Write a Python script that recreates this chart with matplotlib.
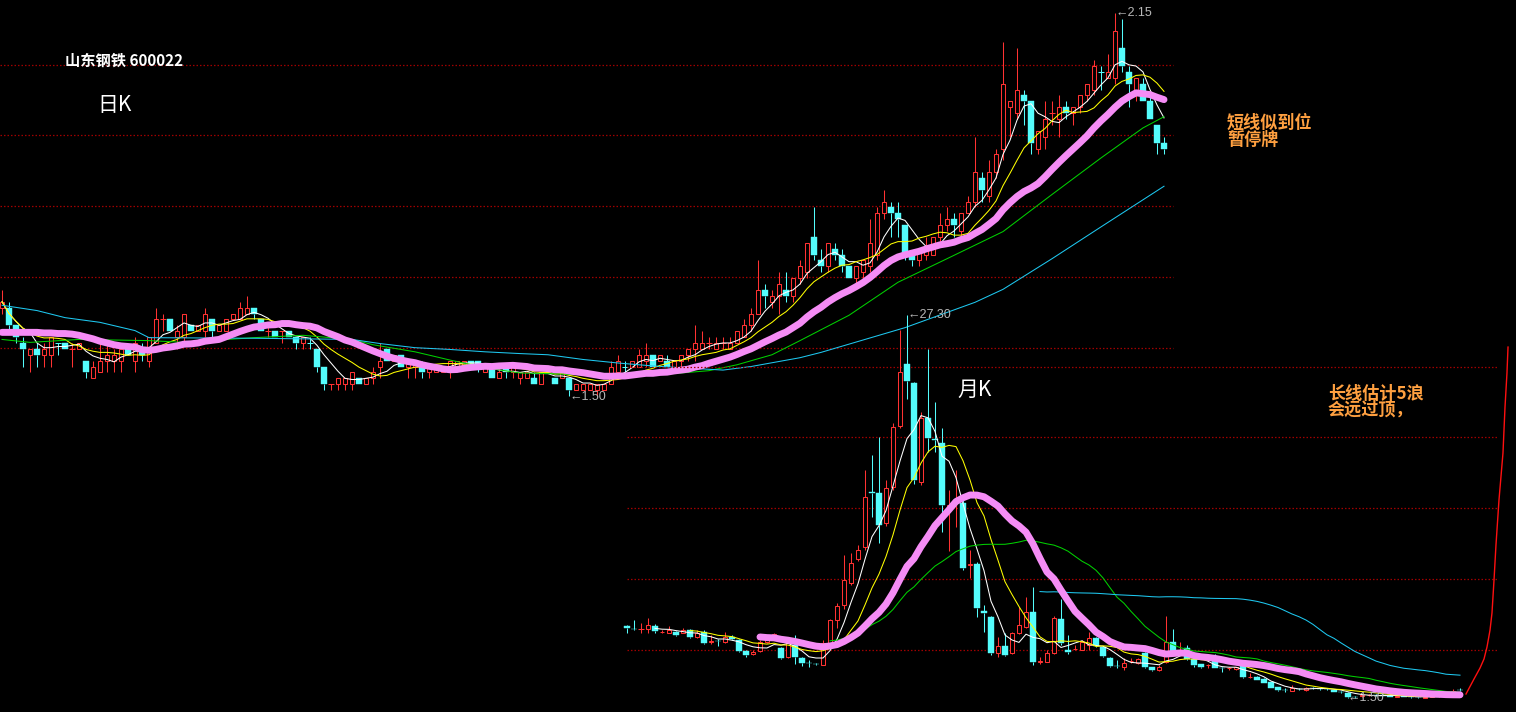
import numpy as np
import pandas as pd
import matplotlib
matplotlib.use("Agg")
import matplotlib.pyplot as plt

plt.rcParams['font.family'] = ['Noto Sans CJK SC', 'DejaVu Sans']

# ---------------- daily K data ----------------
day_open = [
    1.65, 1.65, 1.62, 1.59, 1.57, 1.58, 1.57, 1.57, 1.59, 1.59,
    1.58, 1.58, 1.56, 1.53, 1.54, 1.56, 1.56, 1.56, 1.58, 1.56,
    1.58, 1.56, 1.59, 1.63, 1.63, 1.60, 1.60, 1.62, 1.61, 1.61,
    1.63, 1.61, 1.61, 1.63, 1.63, 1.64, 1.65, 1.63, 1.61, 1.61,
    1.61, 1.61, 1.60, 1.59, 1.59, 1.58, 1.55, 1.52, 1.52, 1.52,
    1.52, 1.53, 1.52, 1.53, 1.55, 1.58, 1.56, 1.57, 1.55, 1.55,
    1.55, 1.54, 1.54, 1.54, 1.55, 1.55, 1.55, 1.56, 1.56, 1.54,
    1.55, 1.53, 1.55, 1.54, 1.53, 1.53, 1.53, 1.52, 1.54, 1.53,
    1.53, 1.53, 1.51, 1.51, 1.51, 1.51, 1.51, 1.52, 1.54, 1.55,
    1.55, 1.55, 1.56, 1.57, 1.56, 1.56, 1.55, 1.56, 1.57, 1.58,
    1.58, 1.59, 1.58, 1.59, 1.58, 1.59, 1.60, 1.62, 1.64, 1.68,
    1.66, 1.67, 1.68, 1.67, 1.70, 1.71, 1.77, 1.73, 1.72, 1.75,
    1.74, 1.72, 1.70, 1.71, 1.72, 1.74, 1.81, 1.82, 1.81, 1.79,
    1.74, 1.73, 1.74, 1.74, 1.77, 1.79, 1.80, 1.78, 1.81, 1.83,
    1.87, 1.84, 1.88, 1.92, 1.99, 1.98, 2.01, 2.00, 1.92, 1.94,
    1.98, 1.97, 1.99, 1.98, 1.99, 2.01, 2.02, 2.05, 2.04, 2.04,
    2.09, 2.05, 2.02, 2.03, 2.00, 1.96, 1.93]
day_high = [
    1.68, 1.66, 1.62, 1.60, 1.58, 1.59, 1.59, 1.60, 1.59, 1.59,
    1.59, 1.59, 1.56, 1.56, 1.59, 1.59, 1.58, 1.58, 1.58, 1.60,
    1.59, 1.60, 1.65, 1.64, 1.63, 1.62, 1.64, 1.62, 1.62, 1.65,
    1.63, 1.62, 1.63, 1.64, 1.66, 1.67, 1.65, 1.63, 1.62, 1.61,
    1.61, 1.61, 1.60, 1.60, 1.60, 1.58, 1.55, 1.52, 1.53, 1.53,
    1.54, 1.53, 1.53, 1.55, 1.59, 1.58, 1.57, 1.57, 1.56, 1.56,
    1.56, 1.55, 1.55, 1.55, 1.56, 1.56, 1.56, 1.56, 1.56, 1.55,
    1.55, 1.55, 1.55, 1.55, 1.54, 1.54, 1.54, 1.54, 1.55, 1.53,
    1.54, 1.53, 1.52, 1.52, 1.52, 1.52, 1.52, 1.56, 1.57, 1.56,
    1.56, 1.58, 1.59, 1.57, 1.57, 1.57, 1.56, 1.57, 1.58, 1.62,
    1.61, 1.60, 1.60, 1.60, 1.60, 1.61, 1.63, 1.65, 1.73, 1.69,
    1.68, 1.71, 1.71, 1.70, 1.73, 1.76, 1.82, 1.75, 1.76, 1.76,
    1.75, 1.72, 1.72, 1.73, 1.80, 1.82, 1.85, 1.83, 1.83, 1.79,
    1.74, 1.75, 1.77, 1.77, 1.81, 1.82, 1.81, 1.81, 1.84, 1.94,
    1.88, 1.90, 1.92, 2.10, 2.00, 2.09, 2.02, 2.00, 1.95, 2.00,
    2.00, 2.01, 2.00, 1.99, 2.01, 2.03, 2.07, 2.06, 2.08, 2.15,
    2.14, 2.06, 2.04, 2.04, 2.01, 1.96, 1.94]
day_low = [
    1.64, 1.61, 1.59, 1.55, 1.54, 1.55, 1.55, 1.55, 1.57, 1.58,
    1.55, 1.58, 1.53, 1.53, 1.54, 1.54, 1.54, 1.54, 1.57, 1.54,
    1.56, 1.55, 1.59, 1.61, 1.61, 1.58, 1.59, 1.61, 1.61, 1.60,
    1.60, 1.61, 1.61, 1.63, 1.63, 1.64, 1.63, 1.61, 1.60, 1.60,
    1.59, 1.60, 1.58, 1.58, 1.58, 1.54, 1.51, 1.51, 1.51, 1.51,
    1.51, 1.52, 1.52, 1.52, 1.53, 1.56, 1.56, 1.55, 1.53, 1.53,
    1.53, 1.53, 1.54, 1.54, 1.53, 1.55, 1.55, 1.55, 1.54, 1.54,
    1.53, 1.53, 1.53, 1.53, 1.52, 1.53, 1.52, 1.52, 1.54, 1.52,
    1.53, 1.50, 1.51, 1.51, 1.51, 1.50, 1.51, 1.52, 1.54, 1.54,
    1.55, 1.55, 1.55, 1.55, 1.56, 1.55, 1.55, 1.55, 1.56, 1.56,
    1.58, 1.58, 1.58, 1.58, 1.58, 1.59, 1.60, 1.61, 1.64, 1.65,
    1.65, 1.64, 1.66, 1.66, 1.69, 1.70, 1.73, 1.71, 1.71, 1.73,
    1.71, 1.70, 1.69, 1.70, 1.71, 1.73, 1.80, 1.77, 1.77, 1.73,
    1.72, 1.72, 1.73, 1.74, 1.76, 1.78, 1.77, 1.77, 1.81, 1.82,
    1.83, 1.83, 1.87, 1.90, 1.94, 1.97, 1.96, 1.91, 1.91, 1.92,
    1.96, 1.94, 1.97, 1.96, 1.98, 2.00, 2.01, 2.02, 2.04, 2.03,
    2.05, 1.99, 2.00, 2.00, 1.97, 1.91, 1.91]
day_close = [
    1.66, 1.62, 1.60, 1.58, 1.58, 1.57, 1.58, 1.60, 1.59, 1.58,
    1.58, 1.59, 1.54, 1.55, 1.56, 1.57, 1.57, 1.58, 1.57, 1.59,
    1.57, 1.60, 1.63, 1.63, 1.61, 1.61, 1.64, 1.61, 1.62, 1.64,
    1.61, 1.62, 1.63, 1.64, 1.65, 1.65, 1.64, 1.61, 1.61, 1.60,
    1.61, 1.60, 1.59, 1.60, 1.59, 1.55, 1.52, 1.52, 1.53, 1.53,
    1.54, 1.52, 1.53, 1.54, 1.56, 1.56, 1.57, 1.55, 1.56, 1.56,
    1.54, 1.55, 1.55, 1.55, 1.56, 1.56, 1.56, 1.55, 1.55, 1.55,
    1.53, 1.54, 1.54, 1.55, 1.54, 1.54, 1.52, 1.54, 1.55, 1.52,
    1.54, 1.51, 1.52, 1.52, 1.52, 1.52, 1.52, 1.55, 1.56, 1.55,
    1.56, 1.57, 1.57, 1.55, 1.57, 1.55, 1.56, 1.57, 1.58, 1.59,
    1.59, 1.59, 1.59, 1.59, 1.59, 1.61, 1.62, 1.64, 1.68, 1.67,
    1.67, 1.69, 1.67, 1.70, 1.72, 1.76, 1.74, 1.72, 1.76, 1.74,
    1.72, 1.70, 1.72, 1.73, 1.76, 1.81, 1.83, 1.81, 1.80, 1.74,
    1.73, 1.75, 1.75, 1.77, 1.79, 1.80, 1.79, 1.81, 1.83, 1.88,
    1.85, 1.88, 1.91, 2.03, 2.00, 2.02, 2.00, 1.93, 1.95, 1.97,
    1.98, 1.99, 1.98, 1.99, 2.01, 2.03, 2.06, 2.05, 2.05, 2.12,
    2.06, 2.03, 2.04, 2.00, 1.97, 1.93, 1.92]

# MA20 values at the left edge (window reaches before the visible data)
day_ma20_head = [1.608, 1.608, 1.608, 1.608, 1.608, 1.608, 1.607, 1.607,
                 1.606, 1.606, 1.605, 1.603, 1.600, 1.597, 1.593, 1.590,
                 1.587, 1.585, 1.584]

# long moving averages of the daily chart
day_green_idx = [0, 4, 11, 21, 26, 36, 43, 50, 53, 59, 64, 69, 74, 78, 83,
                 88, 93, 97, 101, 105, 110, 114, 121, 128, 135, 143, 150,
                 157, 163, 166]
day_green = [1.596, 1.591, 1.596, 1.594, 1.591, 1.599, 1.603, 1.596, 1.587,
             1.575, 1.561, 1.548, 1.539, 1.538, 1.536, 1.534, 1.536, 1.539,
             1.543, 1.553, 1.570, 1.594, 1.637, 1.693, 1.733, 1.779, 1.842,
             1.904, 1.955, 1.974]
day_cyan_idx = [0, 5, 9, 14, 19, 21, 36, 50, 54, 59, 64, 69, 74, 78, 83, 88,
                93, 97, 103, 107, 114, 117, 129, 139, 143, 150, 157, 166]
day_cyan = [1.654, 1.645, 1.633, 1.625, 1.611, 1.599, 1.598, 1.596, 1.589,
            1.582, 1.579, 1.575, 1.572, 1.570, 1.562, 1.556, 1.551, 1.548,
            1.544, 1.550, 1.565, 1.574, 1.616, 1.659, 1.681, 1.733, 1.787,
            1.856]
day_grid = [2.062, 1.943, 1.822, 1.702, 1.581]

# ---------------- monthly K data ----------------
mon_open = [
    6.35, 6.16, 6.15, 6.15, 6.35, 5.93, 5.88, 5.95, 5.88, 6.08,
    5.61, 5.95, 5.30, 5.36, 5.27, 5.61, 5.41, 4.67, 4.46, 4.67,
    5.27, 5.61, 4.87, 4.26, 5.07, 4.20, 3.88, 3.82, 3.72, 5.21,
    6.75, 7.77, 9.25, 10.86, 11.67, 15.38, 15.31, 13.29, 15.71, 19.82,
    24.00, 22.72, 16.05, 20.36, 18.95, 18.68, 14.45, 14.64, 14.64, 10.46,
    10.53, 7.36, 6.96, 4.53, 5.00, 4.53, 5.88, 6.28, 7.29, 3.93,
    3.93, 4.53, 6.82, 4.73, 4.78, 4.73, 5.07, 5.54, 4.94, 4.20,
    3.68, 3.59, 3.97, 3.86, 4.53, 3.59, 3.39, 3.93, 5.27, 4.71,
    4.87, 4.13, 3.79, 3.70, 4.06, 3.54, 3.50, 3.45, 3.72, 2.89,
    2.91, 2.78, 2.58, 2.24, 2.06, 1.97, 2.13, 2.04, 2.19, 2.13,
    2.12, 2.04, 1.91, 1.84, 1.60, 1.62, 1.70, 1.72, 1.70, 1.66,
    1.60, 1.62, 1.58, 1.57, 1.53, 1.60, 1.62, 1.66, 1.84, 2.06]
mon_high = [
    6.42, 6.75, 6.55, 6.89, 6.50, 6.08, 6.35, 6.00, 6.22, 6.15,
    6.08, 6.08, 5.74, 5.47, 5.95, 5.74, 5.45, 4.73, 4.73, 5.41,
    5.50, 5.88, 4.95, 5.30, 5.74, 4.25, 4.06, 3.86, 5.41, 6.82,
    7.90, 11.13, 11.27, 11.81, 16.86, 17.87, 19.08, 16.19, 20.03, 26.29,
    27.30, 22.80, 20.77, 25.01, 21.44, 19.69, 15.51, 16.86, 14.97, 11.47,
    10.66, 7.77, 7.00, 5.61, 5.88, 5.95, 7.63, 8.30, 8.98, 4.26,
    4.73, 7.02, 8.17, 5.74, 5.07, 5.41, 5.95, 5.60, 5.00, 4.25,
    4.06, 4.20, 4.20, 4.20, 4.60, 3.62, 3.70, 7.02, 6.15, 5.27,
    5.07, 4.16, 3.82, 3.79, 4.46, 3.59, 3.60, 3.62, 3.76, 3.18,
    2.95, 2.85, 2.60, 2.26, 2.17, 2.38, 2.20, 2.24, 2.24, 2.17,
    2.15, 2.08, 1.97, 1.88, 1.65, 1.75, 1.80, 1.78, 1.75, 1.70,
    1.68, 1.66, 1.62, 1.60, 1.60, 1.66, 1.70, 1.75, 2.11, 2.17]
mon_low = [
    5.88, 6.10, 5.88, 5.88, 5.88, 5.88, 5.85, 5.70, 5.85, 5.55,
    5.54, 5.15, 5.14, 5.00, 5.20, 5.40, 4.60, 4.26, 4.40, 4.60,
    5.20, 5.50, 4.10, 4.20, 3.79, 3.66, 3.59, 3.72, 3.70, 5.15,
    6.22, 7.50, 9.10, 10.70, 11.50, 13.70, 11.94, 13.10, 15.50, 19.70,
    21.64, 15.90, 15.85, 18.07, 18.07, 12.68, 11.40, 13.02, 10.10, 9.58,
    6.96, 5.95, 4.40, 4.26, 4.30, 4.45, 5.80, 6.20, 3.72, 3.79,
    3.90, 4.45, 5.10, 4.46, 4.73, 4.70, 4.73, 4.95, 4.26, 3.59,
    3.52, 3.39, 3.86, 3.80, 3.52, 3.35, 3.35, 3.86, 4.60, 4.40,
    4.06, 3.59, 3.55, 3.52, 3.50, 3.26, 3.40, 3.40, 2.85, 2.85,
    2.68, 2.48, 2.15, 2.00, 1.91, 1.95, 2.05, 2.00, 2.10, 2.05,
    2.04, 1.88, 1.85, 1.50, 1.52, 1.58, 1.65, 1.66, 1.62, 1.58,
    1.56, 1.55, 1.52, 1.51, 1.52, 1.56, 1.58, 1.62, 1.80, 1.97]
mon_close = [
    6.22, 6.15, 6.15, 6.42, 6.01, 5.95, 6.08, 5.74, 6.08, 5.61,
    5.88, 5.21, 5.35, 5.32, 5.61, 5.47, 4.67, 4.40, 4.60, 5.27,
    5.41, 5.81, 4.20, 5.21, 4.26, 3.86, 3.85, 3.79, 5.21, 6.75,
    7.70, 9.45, 10.59, 11.47, 15.04, 15.31, 13.15, 15.65, 19.76, 23.46,
    22.85, 16.19, 20.36, 19.01, 18.88, 14.50, 14.50, 14.84, 10.26, 10.50,
    7.56, 7.23, 4.53, 5.00, 4.40, 5.88, 6.42, 7.29, 3.93, 3.96,
    4.53, 6.89, 5.21, 4.60, 4.80, 5.27, 5.54, 5.00, 4.33, 3.66,
    3.66, 3.86, 3.99, 4.13, 3.59, 3.39, 3.59, 5.27, 4.67, 4.73,
    4.13, 3.72, 3.59, 3.72, 3.52, 3.52, 3.52, 3.59, 2.91, 2.91,
    2.71, 2.51, 2.17, 2.04, 2.04, 2.17, 2.11, 2.17, 2.17, 2.11,
    2.10, 1.91, 1.90, 1.57, 1.57, 1.70, 1.72, 1.70, 1.66, 1.60,
    1.63, 1.58, 1.55, 1.54, 1.58, 1.62, 1.64, 1.70, 1.97, 2.04]
mon_grid = [23.80, 19.08, 14.30, 9.52, 4.73]

# hand-drawn projection curve (monthly scale)
proj_idx = [119.86, 121.0, 121.86, 122.43, 122.86, 123.29, 123.57, 123.86,
            124.14, 124.57, 125.14, 125.43, 125.71, 125.86]
proj_val = [1.77, 2.78, 3.52, 4.13, 4.94, 6.08, 7.23, 9.45, 11.81, 14.84,
            18.0, 21.10, 23.39, 25.14]

# ---------------- styling ----------------
W, H = 1516, 712
BG = 'black'
RED = '#ff3232'
CYAN = '#54fcfc'
PINK = '#f58cf5'
MA_GREEN = '#00d000'
MA_BLUE = '#1ec8f0'
GRID = '#a00000'
ORANGE = '#ffa040'
LW = 0.75

fig = plt.figure(figsize=(W / 100, H / 100), dpi=100, facecolor=BG)


def make_axes(x0_px, step_px, hi, hi_px, lo, lo_px):
    ax = fig.add_axes([0, 0, 1, 1])
    ax.set_facecolor('none')
    ax.set_axis_off()
    ax.set_xlim(-x0_px / step_px, (W - x0_px) / step_px)
    k = (lo_px - hi_px) / (hi - lo)
    ax.set_ylim(hi - (H - hi_px) / k, hi + hi_px / k)
    return ax


def draw_candles(ax, o, h, l, c):
    o, h, l, c = map(np.asarray, (o, h, l, c))
    x = np.arange(len(o))
    prev = np.r_[c[0], c[:-1]]
    up = (c > o) | ((c == o) & (c >= prev))
    top = np.maximum(o, c)
    bot = np.minimum(o, c)
    col = np.where(up, RED, CYAN)
    ax.vlines(x, top, h, colors=col, lw=LW, zorder=2)
    ax.vlines(x, l, bot, colors=col, lw=LW, zorder=2)
    hollow = up & (c > o)
    filled = (~up) & (c < o)
    doji = c == o
    ax.bar(x[hollow], (top - bot)[hollow], bottom=bot[hollow], width=0.58,
           facecolor=BG, edgecolor=RED, linewidth=LW, zorder=3)
    ax.bar(x[filled], (top - bot)[filled], bottom=bot[filled], width=0.72,
           facecolor=CYAN, edgecolor=CYAN, linewidth=0.3, zorder=3)
    ax.hlines(c[doji], x[doji] - 0.36, x[doji] + 0.36, colors=col[doji],
              lw=LW, zorder=3)


def hi_lo_labels(ax, h, l, dy_low=0.0):
    h = np.asarray(h)
    l = np.asarray(l)
    ih, il = int(np.argmax(h)), int(np.argmin(l))
    kw = dict(color='#b8b8b8', fontsize=9, ha='left', va='center',
              family=['Liberation Sans', 'DejaVu Sans'], zorder=6)
    ax.text(ih, h[ih], '\u2190' + f'{h[ih]:.2f}', **kw)
    ax.text(il, l[il] - dy_low, '\u2190' + f'{l[il]:.2f}', **kw)


# ---------- daily panel ----------
axd = make_axes(2, 7, max(day_high), 13, min(day_low), 396)
for g in day_grid:
    axd.plot([-0.3, 167.3], [g, g], color=GRID, lw=0.9,
             linestyle=(0, (1.2, 1.6)), zorder=0)
draw_candles(axd, day_open, day_high, day_low, day_close)
dc = pd.Series(day_close)
xd = np.arange(len(day_close))
ma20 = dc.rolling(20).mean().to_numpy()
ma20[:len(day_ma20_head)] = day_ma20_head
axd.plot(xd, dc.rolling(5, min_periods=1).mean(), color='white', lw=LW, zorder=4)
axd.plot(xd, dc.rolling(10, min_periods=1).mean(), color='#ffff00', lw=LW, zorder=4)
axd.plot(day_green_idx, day_green, color=MA_GREEN, lw=LW, zorder=4)
axd.plot(day_cyan_idx, day_cyan, color=MA_BLUE, lw=LW, zorder=4)
axd.plot(xd, ma20, color=PINK, lw=5, solid_capstyle='round', zorder=5)
hi_lo_labels(axd, day_high, day_low, dy_low=0.002)

# ---------- monthly panel ----------
axm = make_axes(627, 7, max(mon_high), 315, min(mon_low), 698)
for g in mon_grid:
    axm.plot([0, 124.3], [g, g], color=GRID, lw=0.9,
             linestyle=(0, (1.2, 1.6)), zorder=0)
draw_candles(axm, mon_open, mon_high, mon_low, mon_close)
mc = pd.Series(mon_close)
xm = np.arange(len(mon_close))
axm.plot(xm, mc.rolling(5).mean(), color='white', lw=LW, zorder=4)
axm.plot(xm, mc.rolling(10).mean(), color='#ffff00', lw=LW, zorder=4)
axm.plot(xm, mc.rolling(30).mean(), color=MA_GREEN, lw=LW, zorder=4)
axm.plot(xm, mc.rolling(60).mean(), color=MA_BLUE, lw=LW, zorder=4)
axm.plot(xm, mc.rolling(20).mean(), color=PINK, lw=5,
         solid_capstyle='round', zorder=5)
axm.plot(proj_idx, proj_val, color='#ff1010', lw=1.0, zorder=4)
hi_lo_labels(axm, mon_high, mon_low)


# ---------- texts ----------
def ftext(xp, yp, s, **kw):
    fig.text(xp / W, 1 - yp / H, s, **kw)


ftext(65, 61, '山东钢铁 600022', color='white', fontsize=11,
      fontweight='bold', va='center', ha='left')
ftext(97, 105, '日K', color='white', fontsize=15, va='center', ha='left')
ftext(957, 390, '月K', color='white', fontsize=15, va='center', ha='left')
ftext(1227, 123, '短线似到位', color=ORANGE, fontsize=12.3, fontweight='bold',
      va='center', ha='left')
ftext(1227, 140, '暂停牌', color=ORANGE, fontsize=12.3, fontweight='bold',
      va='center', ha='left')
ftext(1328, 394, '长线估计5浪', color=ORANGE, fontsize=12.3, fontweight='bold',
      va='center', ha='left')
ftext(1328, 410, '会远过顶，', color=ORANGE, fontsize=12.3, fontweight='bold',
      va='center', ha='left')

fig.savefig('out.png', dpi=100, facecolor=BG)
